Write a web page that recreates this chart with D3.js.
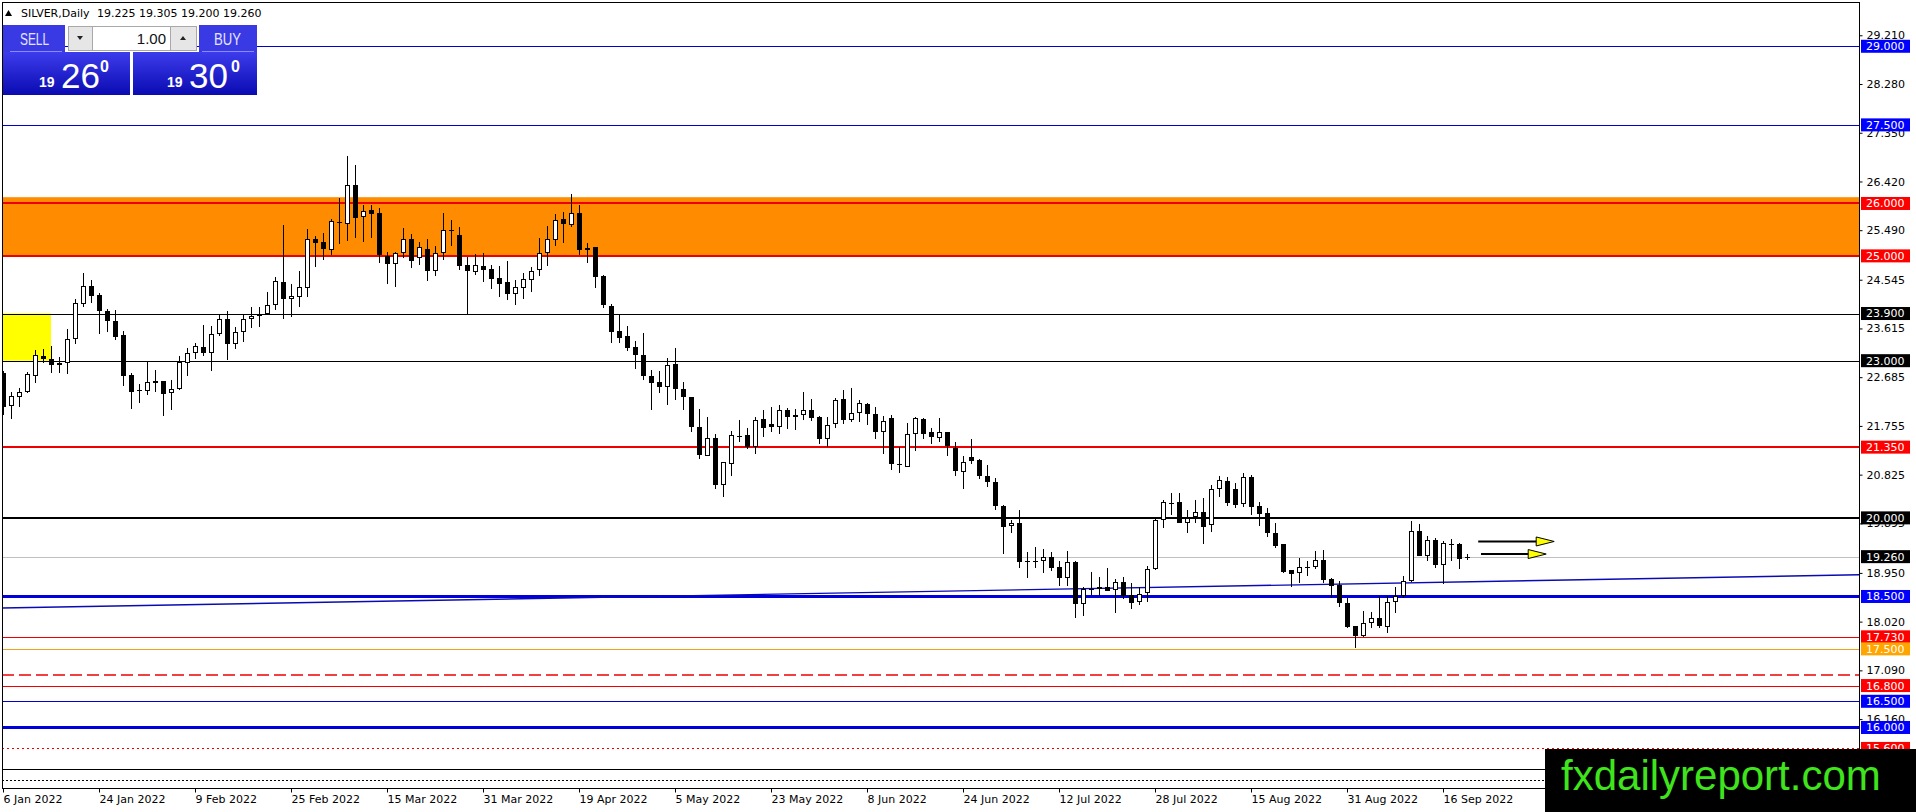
<!DOCTYPE html>
<html>
<head>
<meta charset="utf-8">
<script src="https://cdn.jsdelivr.net/npm/d3@7"></script>
<style>
  html, body { margin: 0; padding: 0; background: #fff; overflow: hidden; }
  svg { display: block; }
</style>
</head>
<body>
<svg id="chart" width="1916" height="812"></svg>
<script>
// Datos del gráfico: SILVER diario, barras desde el 6 ene 2022 (índice 0)
var opens = [
  22.76,22.14,22.30,22.40,22.71,23.09,23.03,22.91,22.95,23.42,
  24.08,24.43,24.26,23.95,23.76,23.49,22.73,22.44,22.42,22.61,
  22.61,22.38,22.45,22.95,23.14,23.26,23.14,23.50,23.79,23.31,
  23.54,23.79,23.90,23.90,24.06,24.50,24.17,24.22,24.38,25.33,
  25.26,25.12,25.65,25.61,26.35,25.74,25.88,25.81,25.00,24.84,
  25.05,25.33,24.95,25.14,24.72,25.05,25.49,25.40,24.83,24.70,
  24.81,24.75,24.58,24.51,24.27,24.39,24.54,24.74,25.05,25.30,
  25.70,25.59,25.82,25.15,25.16,24.62,24.05,23.57,23.47,23.27,
  23.11,22.71,22.60,22.50,22.94,22.46,22.30,21.74,21.19,21.53,
  20.62,21.03,21.57,21.58,21.36,21.89,21.80,21.74,22.06,21.92,
  21.97,22.06,21.93,21.50,21.79,22.27,21.86,22.01,22.17,21.99,
  21.63,21.90,21.03,20.98,21.61,21.89,21.63,21.52,21.63,21.34,
  20.88,21.16,21.11,20.80,20.68,20.23,19.85,19.90,19.17,19.17,
  19.17,19.25,19.06,18.86,19.15,18.35,18.64,18.64,18.69,18.62,
  18.78,18.53,18.39,18.56,19.02,19.95,20.28,20.31,19.91,20.01,
  20.12,19.86,20.55,20.70,20.55,20.26,20.78,20.23,20.09,19.72,
  19.50,19.01,18.94,19.05,19.06,19.20,18.83,18.72,18.38,17.94,
  17.75,17.99,18.08,17.92,18.39,18.50,18.80,19.75,19.27,19.58,
  19.11,19.50,19.51,19.225
];
var highs = [
  22.80,22.41,22.47,22.78,23.20,23.22,23.28,23.07,23.60,24.17,
  24.67,24.54,24.29,23.98,23.96,23.57,22.76,22.56,22.99,22.82,
  22.62,22.63,23.08,23.24,23.33,23.68,23.66,23.90,23.94,23.64,
  23.87,24.03,24.03,24.32,24.60,25.59,24.46,24.72,25.51,25.38,
  25.43,25.70,26.10,26.91,26.74,25.97,25.97,25.91,25.08,25.08,
  25.53,25.42,25.27,25.33,25.18,25.82,25.68,25.55,24.97,25.04,
  25.05,24.83,24.81,24.90,24.54,24.67,24.78,25.35,25.57,25.79,
  25.84,26.19,25.97,25.24,25.17,24.64,24.08,23.90,23.66,23.38,
  23.52,22.82,22.80,23.06,23.24,22.60,22.31,22.07,21.93,21.61,
  21.06,21.65,21.87,21.71,21.93,22.06,22.12,22.16,22.09,22.07,
  22.41,22.26,21.94,21.92,22.28,22.44,22.47,22.25,22.20,22.11,
  21.95,21.96,21.36,21.81,21.92,21.90,21.71,21.91,21.64,21.45,
  21.18,21.50,21.12,21.00,20.77,20.25,19.96,20.15,19.34,19.44,
  19.40,19.34,19.17,19.37,19.18,18.68,18.97,18.87,19.04,18.83,
  18.88,18.75,18.68,19.08,19.99,20.35,20.48,20.47,20.15,20.34,
  20.37,20.62,20.80,20.78,20.66,20.85,20.82,20.30,20.18,19.90,
  19.50,19.01,19.23,19.17,19.37,19.39,18.85,18.80,18.48,17.94,
  18.22,18.21,18.50,18.50,18.68,18.89,19.94,19.88,19.65,19.61,
  19.56,19.59,19.52,19.305
];
var lows = [
  21.96,21.88,22.12,22.39,22.58,22.95,22.77,22.77,22.75,23.32,
  24.03,24.11,23.51,23.55,23.40,22.52,22.08,22.20,22.35,22.40,
  21.95,22.06,22.44,22.71,23.04,23.08,22.81,23.47,23.01,23.22,
  23.36,23.62,23.65,23.87,23.97,23.79,23.83,24.03,24.22,24.79,
  24.92,25.02,25.23,25.29,25.34,25.27,25.35,24.87,24.46,24.41,
  24.95,24.76,24.83,24.52,24.62,24.92,25.19,24.73,23.90,24.64,
  24.51,24.37,24.22,24.16,24.06,24.18,24.32,24.61,24.81,25.18,
  25.24,25.56,25.02,24.86,24.38,24.00,23.34,23.34,23.19,22.84,
  22.63,22.06,22.38,22.15,22.25,22.05,21.63,21.12,21.19,20.55,
  20.39,20.79,21.45,21.31,21.22,21.55,21.63,21.61,21.69,21.67,
  21.87,21.85,21.41,21.36,21.71,21.79,21.83,21.83,21.77,21.50,
  21.22,20.91,20.85,20.97,21.28,21.51,21.41,21.45,21.18,20.79,
  20.55,21.03,20.74,20.58,20.15,19.32,19.71,19.04,18.86,19.04,
  18.95,18.99,18.70,18.70,18.08,18.12,18.53,18.50,18.60,18.18,
  18.45,18.26,18.34,18.40,19.01,19.80,20.05,19.90,19.72,19.91,
  19.50,19.74,20.40,20.22,20.18,20.20,20.06,19.85,19.64,19.42,
  18.94,18.68,18.75,18.89,19.02,18.76,18.47,18.29,17.89,17.51,
  17.73,17.89,17.89,17.80,18.18,18.47,18.78,19.28,19.18,19.05,
  18.73,19.17,19.02,19.200
];
var closes = [
  22.12,22.33,22.41,22.74,23.10,23.04,22.91,22.95,23.41,24.10,
  24.43,24.24,23.94,23.76,23.46,22.71,22.41,22.42,22.59,22.58,
  22.37,22.45,22.98,23.14,23.28,23.15,23.50,23.79,23.31,23.55,
  23.79,23.86,23.86,24.06,24.52,24.18,24.23,24.40,25.33,25.25,
  25.13,25.67,25.63,26.35,25.73,25.86,25.80,25.02,24.84,25.05,
  25.33,24.91,25.16,24.72,25.06,25.49,25.47,24.81,24.72,24.83,
  24.73,24.56,24.46,24.27,24.41,24.55,24.71,25.05,25.32,25.69,
  25.61,25.82,25.11,25.12,24.60,24.06,23.55,23.44,23.25,23.10,
  22.71,22.58,22.50,22.92,22.46,22.30,21.74,21.20,21.52,20.62,
  21.06,21.58,21.55,21.36,21.87,21.71,21.74,22.06,21.93,21.96,
  22.06,21.90,21.50,21.77,22.25,21.86,22.01,22.19,21.99,21.63,
  21.84,21.02,21.01,21.61,21.90,21.61,21.54,21.63,21.38,20.90,
  21.07,21.09,20.79,20.68,20.22,19.82,19.90,19.15,19.15,19.15,
  19.25,19.05,18.86,19.15,18.35,18.64,18.62,18.69,18.61,18.78,
  18.50,18.37,18.55,19.02,19.96,20.31,20.26,19.91,19.99,20.11,
  19.83,20.55,20.72,20.28,20.24,20.78,20.21,20.07,19.72,19.47,
  18.97,18.93,19.06,19.06,19.20,18.82,18.70,18.37,17.92,17.75,
  17.99,18.08,17.94,18.39,18.50,18.80,19.75,19.28,19.58,19.11,
  19.52,19.48,19.21,19.260
];

// Etiquetas del eje temporal (una cada 12 barras)
var dateLabels = ["6 Jan 2022","24 Jan 2022","9 Feb 2022","25 Feb 2022","15 Mar 2022",
  "31 Mar 2022","19 Apr 2022","5 May 2022","23 May 2022","8 Jun 2022","24 Jun 2022",
  "12 Jul 2022","28 Jul 2022","15 Aug 2022","31 Aug 2022","16 Sep 2022"];
var labelEvery = 12;

// Etiquetas del eje de precios
var priceTicks = [29.21,28.28,27.35,26.42,25.49,24.545,23.615,22.685,21.755,20.825,
  19.895,18.95,18.02,17.09,16.16,15.23];

// Niveles horizontales
var levelPrices = [29.0,27.5,26.0,25.0,23.9,23.0,21.35,20.0,19.26,18.5,17.73,17.5,17.0,16.8,16.5,16.0,15.6,15.2,15.0];

// Zonas y línea de tendencia
var orangeZone = [25.0, 26.12];
var yellowBars = [0, 6];
var yellowPrices = [23.0, 23.9];
var trendBars = [0, 183];
var trendPrices = [18.28, 18.78];

// Flechas (barra inicio, barra fin, precio)
var arrowFrom = [184.4, 184.75];
var arrowTo = [193.9, 192.9];
var arrowPrices = [19.55, 19.31];

// Precios del panel de operación
var sellPrice = ["19", "26", "0"];
var buyPrice = ["19", "30", "0"];
var lotSize = "1.00";

// Estilos de los niveles (no son datos)
var levelStyle = {
  "29.000": {c: "#0000cc", w: 1, bg: "#0000ff"},
  "27.500": {c: "#0000cc", w: 1, bg: "#0000ff"},
  "26.000": {c: "#ee0000", w: 2, bg: "#ff0000"},
  "25.000": {c: "#ee0000", w: 2, bg: "#ff0000"},
  "23.900": {c: "#000000", w: 1, bg: "#000000"},
  "23.000": {c: "#000000", w: 1, bg: "#000000"},
  "21.350": {c: "#ee0000", w: 2, bg: "#ff0000"},
  "20.000": {c: "#000000", w: 2, bg: "#000000"},
  "19.260": {c: "#c0c0c0", w: 1, bg: "#000000"},
  "18.500": {c: "#0000dd", w: 3, bg: "#0000ff"},
  "17.730": {c: "#ee0000", w: 1, bg: "#ff0000"},
  "17.500": {c: "#f2a31c", w: 1, bg: "#ffa500"},
  "17.000": {c: "#ee0000", w: 1.3, dash: "12,5"},
  "16.800": {c: "#ee0000", w: 1, bg: "#ff0000"},
  "16.500": {c: "#0000cc", w: 1, bg: "#0000ff"},
  "16.000": {c: "#0000dd", w: 3, bg: "#0000ff"},
  "15.600": {c: "#ee0000", w: 1, dash: "2,3", bg: "#ff0000"},
  "15.200": {c: "#000000", w: 1},
  "15.000": {c: "#000000", w: 1, dash: "2,2"}
};

var W = 1916, H = 812;
var plotL = 2, plotR = 1859, plotT = 2, plotB = 788;

var x = d3.scaleLinear().domain([0, 232]).range([3, 1859]);
var y = d3.scaleLinear().domain([14.845, 29.845]).range([788, 2]);
var fmt = d3.format(".3f");

var svg = d3.select("#chart");
svg.append("rect").attr("width", W).attr("height", H).attr("fill", "#fff");

var defs = svg.append("defs");
defs.append("clipPath").attr("id", "plotClip").append("rect")
  .attr("x", plotL).attr("y", plotT).attr("width", plotR - plotL).attr("height", plotB - plotT);
var grad = defs.append("linearGradient").attr("id", "boxGrad")
  .attr("x1", 0).attr("y1", 0).attr("x2", 0).attr("y2", 1);
grad.append("stop").attr("offset", "0%").attr("stop-color", "#3c3cec");
grad.append("stop").attr("offset", "100%").attr("stop-color", "#0b0bb2");

var plot = svg.append("g").attr("clip-path", "url(#plotClip)");
var barL = x.invert(plotL), barR = x.invert(plotR);

// Zona naranja
plot.append("rect")
  .attr("x", x(barL)).attr("width", x(barR) - x(barL))
  .attr("y", y(orangeZone[1])).attr("height", y(orangeZone[0]) - y(orangeZone[1]))
  .attr("fill", "#ff8c00");

// Zona amarilla
plot.append("rect")
  .attr("x", x(yellowBars[0])).attr("width", x(yellowBars[1]) - x(yellowBars[0]))
  .attr("y", y(yellowPrices[1])).attr("height", y(yellowPrices[0]) - y(yellowPrices[1]))
  .attr("fill", "#ffff00");

// Niveles
levelPrices.forEach(function(p) {
  var s = levelStyle[fmt(p)];
  var yy = Math.round(y(p)) + (s.w % 2 === 1 ? 0.5 : 0);
  plot.append("line")
    .attr("x1", x(barL)).attr("x2", x(barR))
    .attr("y1", yy).attr("y2", yy)
    .attr("stroke", s.c).attr("stroke-width", s.w)
    .attr("stroke-dasharray", s.dash || null);
});

// Línea de tendencia (extendida a los bordes)
var slope = (trendPrices[1] - trendPrices[0]) / (trendBars[1] - trendBars[0]);
function trendAt(b) { return trendPrices[0] + slope * (b - trendBars[0]); }
plot.append("line")
  .attr("x1", x(barL)).attr("y1", y(trendAt(barL)))
  .attr("x2", x(barR)).attr("y2", y(trendAt(barR)))
  .attr("stroke", "#0a0ab4").attr("stroke-width", 1.4);

// Velas
var bars = d3.range(opens.length).map(function(i) {
  return {i: i, o: opens[i], h: highs[i], l: lows[i], c: closes[i]};
});
var candle = plot.selectAll(".candle").data(bars).enter().append("g").attr("class", "candle");
candle.append("line")
  .attr("x1", function(d) { return Math.round(x(d.i)) + 0.5; })
  .attr("x2", function(d) { return Math.round(x(d.i)) + 0.5; })
  .attr("y1", function(d) { return Math.round(y(d.h)); })
  .attr("y2", function(d) { return Math.round(y(d.l)); })
  .attr("stroke", "#000").attr("stroke-width", 1);
candle.each(function(d) {
  var g = d3.select(this);
  var cx = Math.round(x(d.i));
  var top = Math.round(y(Math.max(d.o, d.c)));
  var bot = Math.round(y(Math.min(d.o, d.c)));
  if (bot - top < 2) {
    g.append("line").attr("x1", cx - 2).attr("x2", cx + 3)
      .attr("y1", top + 0.5).attr("y2", top + 0.5)
      .attr("stroke", "#000").attr("stroke-width", 1);
  } else {
    g.append("rect").attr("x", cx - 1.5).attr("width", 4)
      .attr("y", top + 0.5).attr("height", bot - top - 1)
      .attr("fill", d.c >= d.o ? "#fff" : "#000")
      .attr("stroke", "#000").attr("stroke-width", 1);
  }
});

// Flechas
arrowPrices.forEach(function(p, k) {
  var yy = y(p), x0 = x(arrowFrom[k]), x1 = x(arrowTo[k]);
  plot.append("line").attr("x1", x0).attr("x2", x1 - 16)
    .attr("y1", yy).attr("y2", yy).attr("stroke", "#000").attr("stroke-width", 2);
  plot.append("path")
    .attr("d", "M" + (x1 - 18) + "," + (yy - 4.5) + "L" + x1 + "," + yy + "L" + (x1 - 18) + "," + (yy + 4.5) + "Z")
    .attr("fill", "#ffff00").attr("stroke", "#000").attr("stroke-width", 1);
});

// Marco
svg.append("rect").attr("x", plotL + 0.5).attr("y", plotT + 0.5)
  .attr("width", plotR - plotL).attr("height", plotB - plotT)
  .attr("fill", "none").attr("stroke", "#000").attr("stroke-width", 1);

// Eje de precios
var yAxis = svg.append("g").attr("transform", "translate(" + (plotR + 0.5) + ",0)")
  .call(d3.axisRight(y).tickValues(priceTicks).tickFormat(fmt).tickSize(3).tickPadding(4).tickSizeOuter(0));
yAxis.select(".domain").remove();
yAxis.selectAll("text").attr("font-family", "DejaVu Sans").attr("font-size", 11).attr("fill", "#000");
yAxis.selectAll("line").attr("stroke", "#000");

// Etiquetas de niveles
levelPrices.forEach(function(p) {
  var s = levelStyle[fmt(p)];
  if (!s.bg) return;
  var yy = y(p);
  svg.append("rect").attr("x", plotR + 2).attr("y", yy - 6.5)
    .attr("width", 49).attr("height", 13).attr("fill", s.bg);
  svg.append("text").attr("x", plotR + 7).attr("y", yy).attr("dy", "0.36em")
    .attr("font-family", "DejaVu Sans").attr("font-size", 11).attr("fill", "#fff")
    .text(fmt(p));
});

// Eje temporal
var labelBars = dateLabels.map(function(d, k) { return k * labelEvery; });
var xAxis = svg.append("g").attr("transform", "translate(0," + (plotB + 0.5) + ")")
  .call(d3.axisBottom(x).tickValues(labelBars)
    .tickFormat(function(d, k) { return dateLabels[k]; })
    .tickSize(4).tickPadding(3).tickSizeOuter(0));
xAxis.select(".domain").remove();
xAxis.selectAll("text").attr("text-anchor", "start")
  .attr("font-family", "DejaVu Sans").attr("font-size", 11).attr("fill", "#000");
xAxis.selectAll("line").attr("stroke", "#000");

// Cabecera
var last = opens.length - 1;
svg.append("path").attr("d", "M5,16L8.5,10L12,16Z").attr("fill", "#000");
svg.append("text").attr("x", 21).attr("y", 17)
  .attr("font-family", "DejaVu Sans").attr("font-size", 11).attr("fill", "#000")
  .text("SILVER,Daily");
svg.append("text").attr("x", 97).attr("y", 17)
  .attr("font-family", "DejaVu Sans").attr("font-size", 11).attr("fill", "#000")
  .text([opens[last], highs[last], lows[last], closes[last]].map(fmt).join(" "));

// Panel SELL / BUY
var panel = svg.append("g").attr("font-family", "Liberation Sans");
panel.append("rect").attr("x", 3).attr("y", 25).attr("width", 62).attr("height", 27).attr("fill", "#3a3ae4");
panel.append("rect").attr("x", 199).attr("y", 25).attr("width", 58).attr("height", 27).attr("fill", "#3a3ae4");
panel.append("line").attr("x1", 10).attr("x2", 62).attr("y1", 51.5).attr("y2", 51.5).attr("stroke", "#8a8aff");
panel.append("line").attr("x1", 202).attr("x2", 254).attr("y1", 51.5).attr("y2", 51.5).attr("stroke", "#8a8aff");
panel.append("text").attr("x", 20).attr("y", 45).attr("font-size", 16)
  .attr("textLength", 29).attr("lengthAdjust", "spacingAndGlyphs").attr("fill", "#e4e4ff").text("SELL");
panel.append("text").attr("x", 214).attr("y", 45).attr("font-size", 16)
  .attr("textLength", 27).attr("lengthAdjust", "spacingAndGlyphs").attr("fill", "#e4e4ff").text("BUY");
// botones del lote
panel.append("rect").attr("x", 68.5).attr("y", 26.5).attr("width", 24).attr("height", 24)
  .attr("fill", "#e6e6e6").attr("stroke", "#a8a8a8");
panel.append("path").attr("d", "M77,36L83,36L80,40Z").attr("fill", "#222");
panel.append("rect").attr("x", 92.5).attr("y", 26.5).attr("width", 78).attr("height", 24)
  .attr("fill", "#fff").attr("stroke", "#a8a8a8");
panel.append("text").attr("x", 166).attr("y", 44).attr("text-anchor", "end")
  .attr("font-size", 15).attr("fill", "#111").text(lotSize);
panel.append("rect").attr("x", 170.5).attr("y", 26.5).attr("width", 26).attr("height", 24)
  .attr("fill", "#e6e6e6").attr("stroke", "#a8a8a8");
panel.append("path").attr("d", "M180,40L186,40L183,36Z").attr("fill", "#222");
// cajas de precio
panel.append("rect").attr("x", 3).attr("y", 52).attr("width", 127).attr("height", 43).attr("fill", "url(#boxGrad)");
panel.append("rect").attr("x", 133).attr("y", 52).attr("width", 124).attr("height", 43).attr("fill", "url(#boxGrad)");
function drawPrice(p, x0, x1, x2) {
  panel.append("text").attr("x", x0).attr("y", 87).attr("font-size", 14).attr("font-weight", "bold")
    .attr("fill", "#fff").text(p[0]);
  panel.append("text").attr("x", x1).attr("y", 88).attr("font-size", 35)
    .attr("fill", "#fff").text(p[1]);
  panel.append("text").attr("x", x2).attr("y", 72).attr("font-size", 16).attr("font-weight", "bold")
    .attr("fill", "#fff").text(p[2]);
}
drawPrice(sellPrice, 39, 61, 100);
drawPrice(buyPrice, 167, 189, 231);

// Logo
svg.append("rect").attr("x", 1545).attr("y", 749).attr("width", W - 1545).attr("height", H - 749).attr("fill", "#000");
svg.append("text").attr("x", 1561).attr("y", 790)
  .attr("font-family", "Liberation Sans").attr("font-size", 42).attr("fill", "#3fe41c")
  .text("fxdailyreport.com");
</script>
</body>
</html>
